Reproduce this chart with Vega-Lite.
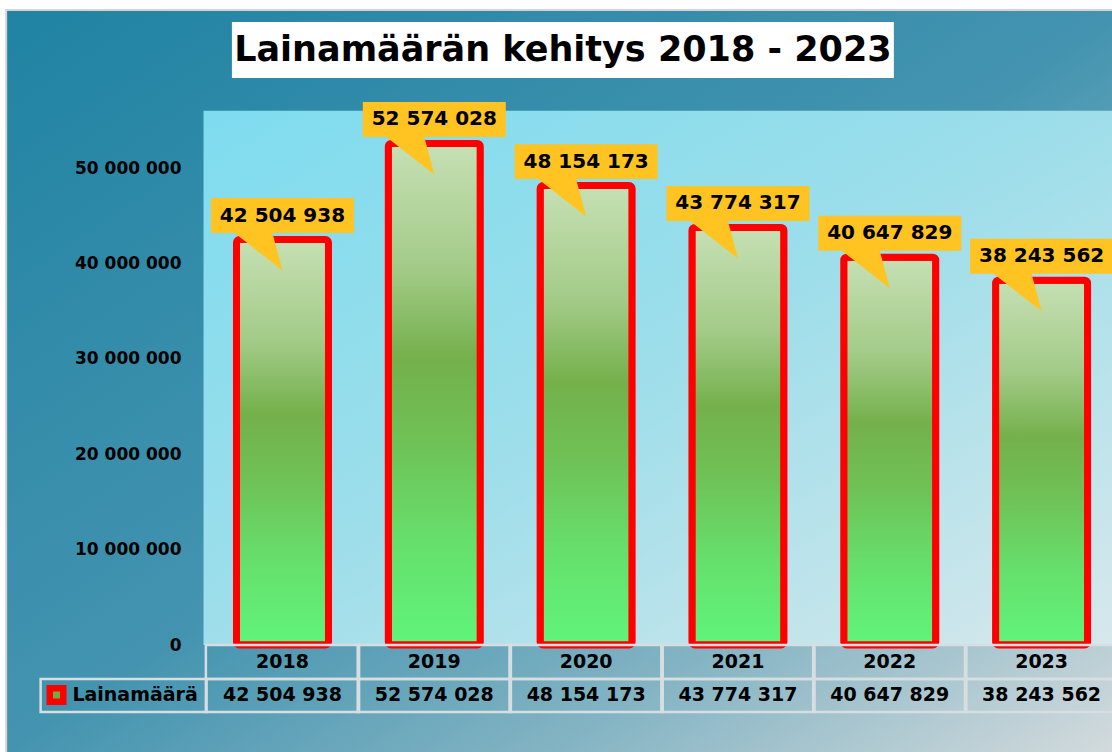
{
  "$schema": "https://vega.github.io/schema/vega-lite/v6.json",
  "width": 1112,
  "height": 752,
  "padding": 0,
  "autosize": "none",
  "background": "white",
  "config": {
    "view": {"stroke": null},
    "axisY": {"orient": "left", "offset": -190, "zindex": 2, "format": ",d", "ticks": false, "domain": false, "grid": false, "title": null,
      "labelPadding": 9, "labelFont": "DejaVu Sans", "labelFontWeight": "bold", "labelFontSize": 17, "labelColor": "#000000", "labelFlush": false, "labelOverlap": false},
    "locale": {"number": {"decimal": ",", "thousands": " ", "grouping": [3], "currency": ["", " €"]}}
  },
  "data": {"values": [
    {"year": 2018, "value": 42504938},
    {"year": 2019, "value": 52574028},
    {"year": 2020, "value": 48154173},
    {"year": 2021, "value": 43774317},
    {"year": 2022, "value": 40647829},
    {"year": 2023, "value": 38243562}
  ]},
  "layer": [
    {
      "data": {"values": [{}]},
      "mark": {"type": "rect", "stroke": "#d4d4d4", "strokeWidth": 2,
        "fill": {"gradient": "linear", "x1": 0, "y1": 0, "x2": 1, "y2": 1,
          "stops": [{"offset": 0, "color": "#2083a3"}, {"offset": 0.5, "color": "#4494b0"}, {"offset": 0.75, "color": "#86b5c4"}, {"offset": 1, "color": "#d6dcde"}]}},
      "encoding": {
        "x": {"datum": 2016.18, "type": "quantitative", "scale": {"domain": [2016.17232, 2023.43081], "nice": false, "zero": false}, "axis": null},
        "x2": {"datum": 2023.6},
        "y": {"datum": 66561843, "type": "quantitative", "scale": {"domain": [-11215933, 67610063], "nice": false, "zero": false}},
        "y2": {"datum": -11400000}
      }
    },
    {
      "data": {"values": [{}]},
      "mark": {"type": "rect",
        "fill": {"gradient": "linear", "x1": 0, "y1": 0, "x2": 1, "y2": 1,
          "stops": [{"offset": 0, "color": "#7edcef"}, {"offset": 0.5, "color": "#9fdeea"}, {"offset": 1, "color": "#d8e8ec"}]}},
      "encoding": {
        "x": {"datum": 2017.48, "type": "quantitative", "scale": {"domain": [2016.17232, 2023.43081], "nice": false, "zero": false}, "axis": null},
        "x2": {"datum": 2023.6},
        "y": {"datum": 56000000, "type": "quantitative", "scale": {"domain": [-11215933, 67610063], "nice": false, "zero": false}},
        "y2": {"datum": 0}
      }
    },
    {
      "data": {"values": [{}]},
      "mark": {"type": "rect", "fill": "#ffffff"},
      "encoding": {
        "x": {"datum": 2017.667, "type": "quantitative", "scale": {"domain": [2016.17232, 2023.43081], "nice": false, "zero": false}, "axis": null},
        "x2": {"datum": 2022.027},
        "y": {"datum": 65300000, "type": "quantitative", "scale": {"domain": [-11215933, 67610063], "nice": false, "zero": false}},
        "y2": {"datum": 59430000}
      }
    },
    {
      "data": {"values": [{"title": "Lainamäärän kehitys 2018 - 2023"}]},
      "mark": {"type": "text", "font": "DejaVu Sans", "fontWeight": "bold", "fontSize": 35, "color": "#000000", "align": "center", "baseline": "middle"},
      "encoding": {
        "x": {"datum": 2019.847, "type": "quantitative", "scale": {"domain": [2016.17232, 2023.43081], "nice": false, "zero": false}, "axis": null},
        "y": {"datum": 62370000, "type": "quantitative", "scale": {"domain": [-11215933, 67610063], "nice": false, "zero": false}},
        "text": {"field": "title", "type": "nominal"}
      }
    },
    {
      "mark": {"type": "bar", "width": 92, "stroke": "#ff0000", "strokeWidth": 7, "cornerRadius": 3,
        "fill": {"gradient": "linear", "x1": 0, "y1": 0, "x2": 0, "y2": 1,
          "stops": [{"offset": 0, "color": "#c6e0b4"}, {"offset": 0.25, "color": "#a3cb88"}, {"offset": 0.43, "color": "#74b04b"}, {"offset": 0.6, "color": "#6fc257"}, {"offset": 0.8, "color": "#66e06d"}, {"offset": 1, "color": "#60f47b"}]}},
      "encoding": {
        "x": {"field": "year", "type": "quantitative", "scale": {"domain": [2016.17232, 2023.43081], "nice": false, "zero": false}, "axis": null},
        "y": {"field": "value", "type": "quantitative", "scale": {"domain": [-11215933, 67610063], "nice": false, "zero": false},
          "axis": {"orient": "left", "offset": -190, "zindex": 2, "values": [0, 10000000, 20000000, 30000000, 40000000, 50000000], "format": ",d",
            "ticks": false, "domain": false, "grid": false, "title": null, "labelPadding": 9, "labelFont": "DejaVu Sans", "labelFontWeight": "bold",
            "labelFontSize": 17, "labelColor": "#000000", "labelFlush": false, "labelOverlap": false}}
      }
    },
    {
      "mark": {"type": "point", "filled": true, "opacity": 1, "fill": "#ffc322", "strokeWidth": 0, "size": 20449,
        "shape": "M-1,-0.58 L1,-0.58 L1,-0.0909 L-0.14,-0.0909 L0,0.4336 L-0.671,-0.0909 L-1,-0.0909 Z"},
      "encoding": {
        "x": {"field": "year", "type": "quantitative", "scale": {"domain": [2016.17232, 2023.43081], "nice": false, "zero": false}, "axis": null},
        "y": {"field": "value", "type": "quantitative", "scale": {"domain": [-11215933, 67610063], "nice": false, "zero": false}}
      }
    },
    {
      "mark": {"type": "text", "font": "DejaVu Sans", "fontWeight": "bold", "fontSize": 20, "color": "#000000", "dy": -24, "baseline": "middle", "align": "center"},
      "encoding": {
        "x": {"field": "year", "type": "quantitative", "scale": {"domain": [2016.17232, 2023.43081], "nice": false, "zero": false}, "axis": null},
        "y": {"field": "value", "type": "quantitative", "scale": {"domain": [-11215933, 67610063], "nice": false, "zero": false}},
        "text": {"field": "value", "type": "quantitative", "format": ",d"}
      }
    },
    {
      "mark": {"type": "bar", "width": 153.2, "fill": null, "fillOpacity": 0, "stroke": "#d7dee1", "strokeWidth": 2.5},
      "encoding": {
        "x": {"field": "year", "type": "quantitative", "scale": {"domain": [2016.17232, 2023.43081], "nice": false, "zero": false}, "axis": null},
        "y": {"datum": 0, "type": "quantitative", "scale": {"domain": [-11215933, 67610063], "nice": false, "zero": false}},
        "y2": {"datum": -3564000}
      }
    },
    {
      "mark": {"type": "bar", "width": 153.2, "fill": null, "fillOpacity": 0, "stroke": "#d7dee1", "strokeWidth": 2.5},
      "encoding": {
        "x": {"field": "year", "type": "quantitative", "scale": {"domain": [2016.17232, 2023.43081], "nice": false, "zero": false}, "axis": null},
        "y": {"datum": -3564000, "type": "quantitative", "scale": {"domain": [-11215933, 67610063], "nice": false, "zero": false}},
        "y2": {"datum": -7023000}
      }
    },
    {
      "data": {"values": [{}]},
      "mark": {"type": "rect", "fill": null, "fillOpacity": 0, "stroke": "#d7dee1", "strokeWidth": 2.5},
      "encoding": {
        "x": {"datum": 2016.407, "type": "quantitative", "scale": {"domain": [2016.17232, 2023.43081], "nice": false, "zero": false}, "axis": null},
        "x2": {"datum": 2017.5},
        "y": {"datum": -3564000, "type": "quantitative", "scale": {"domain": [-11215933, 67610063], "nice": false, "zero": false}},
        "y2": {"datum": -7023000}
      }
    },
    {
      "mark": {"type": "text", "font": "DejaVu Sans", "fontWeight": "bold", "fontSize": 19, "color": "#000000", "baseline": "middle", "align": "center"},
      "encoding": {
        "x": {"field": "year", "type": "quantitative", "scale": {"domain": [2016.17232, 2023.43081], "nice": false, "zero": false}, "axis": null},
        "y": {"datum": -1782000, "type": "quantitative", "scale": {"domain": [-11215933, 67610063], "nice": false, "zero": false}},
        "text": {"field": "year", "type": "nominal"}
      }
    },
    {
      "mark": {"type": "text", "font": "DejaVu Sans", "fontWeight": "bold", "fontSize": 19, "color": "#000000", "baseline": "middle", "align": "center"},
      "encoding": {
        "x": {"field": "year", "type": "quantitative", "scale": {"domain": [2016.17232, 2023.43081], "nice": false, "zero": false}, "axis": null},
        "y": {"datum": -5290000, "type": "quantitative", "scale": {"domain": [-11215933, 67610063], "nice": false, "zero": false}},
        "text": {"field": "value", "type": "quantitative", "format": ",d"}
      }
    },
    {
      "data": {"values": [{"series": "Lainamäärä"}]},
      "mark": {"type": "text", "font": "DejaVu Sans", "fontWeight": "bold", "fontSize": 19, "color": "#000000", "baseline": "middle", "align": "left"},
      "encoding": {
        "x": {"datum": 2016.6162, "type": "quantitative", "scale": {"domain": [2016.17232, 2023.43081], "nice": false, "zero": false}, "axis": null},
        "y": {"datum": -5290000, "type": "quantitative", "scale": {"domain": [-11215933, 67610063], "nice": false, "zero": false}},
        "text": {"field": "series", "type": "nominal"}
      }
    },
    {
      "data": {"values": [{}]},
      "mark": {"type": "point", "shape": "square", "filled": true, "opacity": 1, "fill": "#ff0000", "size": 400},
      "encoding": {
        "x": {"datum": 2016.5117, "type": "quantitative", "scale": {"domain": [2016.17232, 2023.43081], "nice": false, "zero": false}, "axis": null},
        "y": {"datum": -5240000, "type": "quantitative", "scale": {"domain": [-11215933, 67610063], "nice": false, "zero": false}}
      }
    },
    {
      "data": {"values": [{}]},
      "mark": {"type": "point", "shape": "square", "filled": true, "opacity": 1, "fill": "#70ad47", "size": 49},
      "encoding": {
        "x": {"datum": 2016.5117, "type": "quantitative", "scale": {"domain": [2016.17232, 2023.43081], "nice": false, "zero": false}, "axis": null},
        "y": {"datum": -5240000, "type": "quantitative", "scale": {"domain": [-11215933, 67610063], "nice": false, "zero": false}}
      }
    }
  ]
}
